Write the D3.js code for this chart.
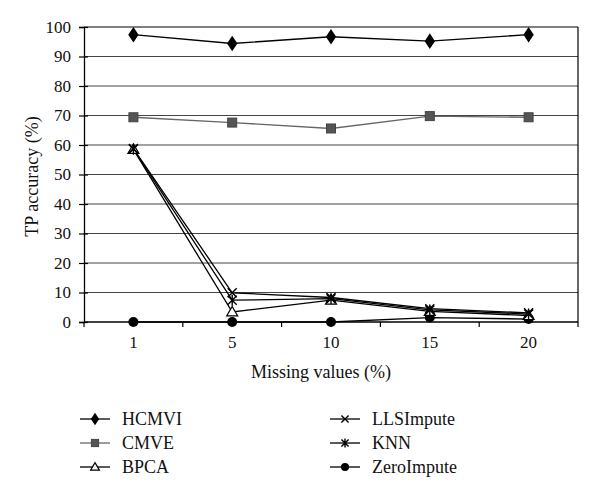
<!DOCTYPE html>
<html>
<head>
<meta charset="utf-8">
<script src="https://cdn.jsdelivr.net/npm/d3@7"></script>
<style>
body { margin: 0; background: #fff; }
text { font-family: "Liberation Serif", "DejaVu Serif", serif; fill: #111; }
</style>
</head>
<body>
<div id="chart-area"></div>
<script>
var width = 600;
var height = 499;
var margin = {top: 27, right: 22, bottom: 177, left: 84};
var innerW = width - margin.left - margin.right;
var innerH = height - margin.top - margin.bottom;

var categories = ["1", "5", "10", "15", "20"];
var yTicks = [0, 10, 20, 30, 40, 50, 60, 70, 80, 90, 100];
var hcmvi = [97.4, 94.4, 96.7, 95.2, 97.4];
var cmve = [69.4, 67.6, 65.6, 69.8, 69.4];
var bpca = [58.5, 3.4, 7.4, 3.6, 2.2];
var llsimpute = [58.8, 9.9, 8.3, 4.5, 3.1];
var knn = [58.6, 7.4, 7.9, 4.1, 2.7];
var zeroimpute = [0, 0, 0, 1.5, 1.0];

var series = [
	{name: "HCMVI", values: hcmvi, marker: "diamond", line: "#000"},
	{name: "CMVE", values: cmve, marker: "square", line: "#666"},
	{name: "BPCA", values: bpca, marker: "triangle", line: "#000"},
	{name: "LLSImpute", values: llsimpute, marker: "cross", line: "#000"},
	{name: "KNN", values: knn, marker: "star", line: "#000"},
	{name: "ZeroImpute", values: zeroimpute, marker: "circle", line: "#000"}
];

var svg = d3.select("#chart-area").append("svg")
	.attr("width", width)
	.attr("height", height);

var g = svg.append("g")
	.attr("transform", "translate(" + margin.left + ", " + margin.top + ")");

var x = d3.scaleBand().domain(categories).range([0, innerW]).padding(0);
var y = d3.scaleLinear().domain([0, 100]).range([innerH, 0]);

// gridlines
g.selectAll(".grid").data(yTicks.filter(function(d) { return d > 0; }))
	.enter().append("line")
	.attr("class", "grid")
	.attr("x1", 0).attr("x2", innerW)
	.attr("y1", function(d) { return y(d); })
	.attr("y2", function(d) { return y(d); })
	.attr("stroke", function(d) { return d == 100 ? "#000" : "#444"; })
	.attr("stroke-width", 1.2);

// right border
g.append("line")
	.attr("x1", innerW).attr("x2", innerW)
	.attr("y1", 0).attr("y2", innerH)
	.attr("stroke", "#000").attr("stroke-width", 1.2);

// y axis
var leftAxis = d3.axisLeft(y).tickValues(yTicks).tickSize(5).tickPadding(8);
var yAxisGroup = g.append("g").call(leftAxis);
yAxisGroup.select(".domain").attr("stroke", "#000").attr("stroke-width", 1.3);
yAxisGroup.selectAll(".tick line").attr("x2", -5).attr("x1", 4).attr("stroke", "#000").attr("stroke-width", 1.2);
yAxisGroup.selectAll(".tick text").attr("font-size", "17px").attr("font-family", "Liberation Serif").attr("fill", "#111");

// x axis
var bottomAxis = d3.axisBottom(x).tickSize(0).tickPadding(0);
var xAxisGroup = g.append("g").attr("transform", "translate(0, " + innerH + ")").call(bottomAxis);
xAxisGroup.select(".domain").remove();
xAxisGroup.selectAll(".tick text").attr("y", 26).attr("dy", 0)
	.attr("font-size", "17px").attr("font-family", "Liberation Serif").attr("fill", "#111");
g.append("line")
	.attr("x1", 0).attr("x2", innerW)
	.attr("y1", innerH).attr("y2", innerH)
	.attr("stroke", "#000").attr("stroke-width", 1.3);
var bounds = categories.map(function(c) { return x(c); }).concat([innerW]);
g.selectAll(".xtick").data(bounds).enter().append("line")
	.attr("class", "xtick")
	.attr("x1", function(d) { return d; }).attr("x2", function(d) { return d; })
	.attr("y1", innerH).attr("y2", innerH + 5)
	.attr("stroke", "#000").attr("stroke-width", 1.2);

// axis labels
g.append("text")
	.attr("x", innerW / 2 - 10)
	.attr("y", innerH + 56)
	.attr("font-size", "18px")
	.attr("text-anchor", "middle")
	.text("Missing values (%)");

g.append("text")
	.attr("transform", "rotate(-90)")
	.attr("x", -innerH / 2 - 2)
	.attr("y", -46)
	.attr("font-size", "18px")
	.attr("text-anchor", "middle")
	.text("TP accuracy (%)");

function drawMarker(sel, type, cx, cy, k) {
	k = k || 1;
	var h = 4.5 * k;
	if (type == "diamond") {
		sel.append("path").attr("d", d3.symbol().type(d3.symbolDiamond).size(70 * k * k)())
			.attr("transform", "translate(" + cx + "," + cy + ") scale(1.15,1)")
			.attr("fill", "#000");
	} else if (type == "square") {
		sel.append("rect").attr("x", cx - h).attr("y", cy - h).attr("width", 2 * h).attr("height", 2 * h)
			.attr("fill", "#555").attr("stroke", "#444");
	} else if (type == "triangle") {
		var t = 5.5 * k;
		sel.append("path").attr("d", "M" + cx + "," + (cy - t) + "L" + (cx + t) + "," + (cy + 4 * k) + "L" + (cx - t) + "," + (cy + 4 * k) + "Z")
			.attr("fill", "#fff").attr("stroke", "#000").attr("stroke-width", 1.2);
	} else if (type == "cross") {
		sel.append("path").attr("d", "M" + (cx - h) + "," + (cy - h) + "L" + (cx + h) + "," + (cy + h) + "M" + (cx + h) + "," + (cy - h) + "L" + (cx - h) + "," + (cy + h))
			.attr("stroke", "#000").attr("stroke-width", 1.4);
	} else if (type == "star") {
		sel.append("path").attr("d", "M" + (cx - h) + "," + (cy - h) + "L" + (cx + h) + "," + (cy + h) + "M" + (cx + h) + "," + (cy - h) + "L" + (cx - h) + "," + (cy + h) + "M" + cx + "," + (cy - 5.5 * k) + "L" + cx + "," + (cy + 5.5 * k))
			.attr("stroke", "#000").attr("stroke-width", 1.4);
	} else if (type == "circle") {
		sel.append("circle").attr("cx", cx).attr("cy", cy).attr("r", 5 * k).attr("fill", "#000");
	}
}

var line = d3.line()
	.x(function(d, i) { return x(categories[i]) + x.bandwidth() / 2; })
	.y(function(d) { return y(d); });

// draw bottom series first
var order = [5, 2, 4, 3, 1, 0];
order.forEach(function(k) {
	var s = series[k];
	g.append("path")
		.datum(s.values)
		.attr("d", line)
		.attr("fill", "none")
		.attr("stroke", s.line)
		.attr("stroke-width", 1.3);
});
order.forEach(function(k) {
	var s = series[k];
	var mg = g.append("g");
	s.values.forEach(function(v, i) {
		drawMarker(mg, s.marker, x(categories[i]) + x.bandwidth() / 2, y(v));
	});
});

// legend
var legendPos = [
	{lx: 80, ty: 419}, {lx: 80, ty: 443}, {lx: 80, ty: 467},
	{lx: 330, ty: 419}, {lx: 330, ty: 443}, {lx: 330, ty: 467}
];
series.forEach(function(s, i) {
	var p = legendPos[i];
	var lg = svg.append("g");
	lg.append("line")
		.attr("x1", p.lx).attr("x2", p.lx + 30)
		.attr("y1", p.ty).attr("y2", p.ty)
		.attr("stroke", s.line).attr("stroke-width", 1.3);
	drawMarker(lg, s.marker, p.lx + 15, p.ty, 0.8);
	lg.append("text")
		.attr("x", p.lx + 42)
		.attr("y", p.ty)
		.attr("dy", "0.35em")
		.attr("font-size", "18px")
		.text(s.name);
});
</script>
</body>
</html>
